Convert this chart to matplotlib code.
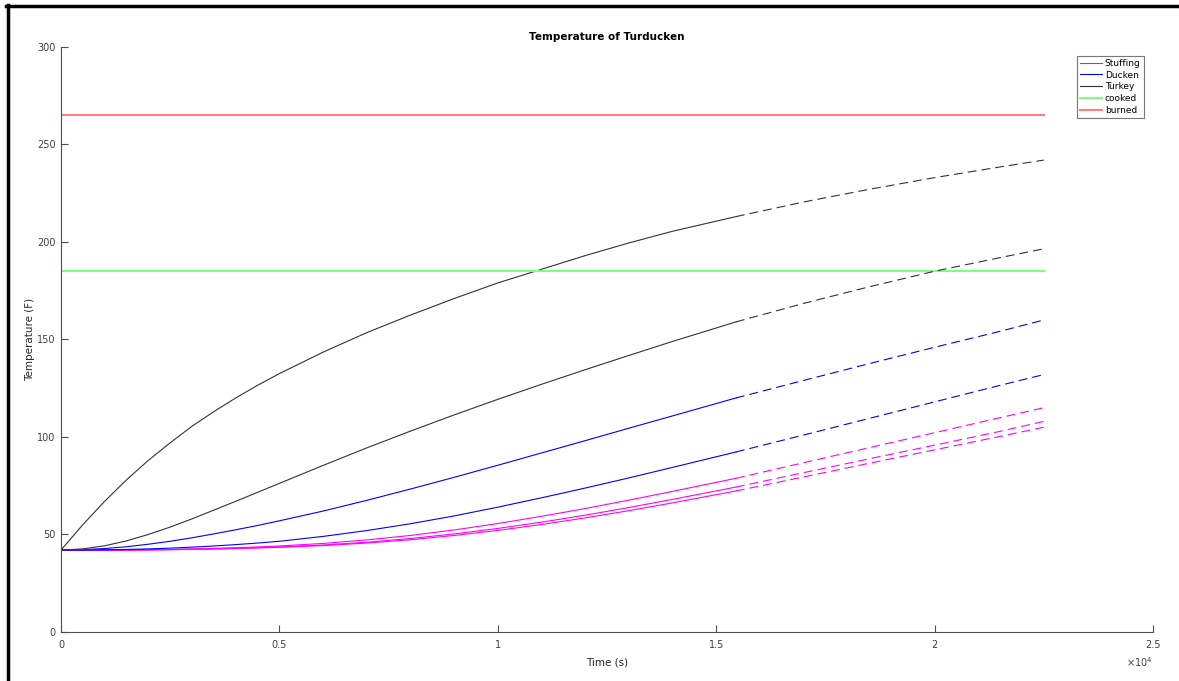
import numpy as np
import matplotlib
matplotlib.use("Agg")
import matplotlib.pyplot as plt
from matplotlib.lines import Line2D

# time points (s)
t_solid = [0, 500, 1000, 1500, 2000, 2500, 3000, 3500, 4000, 4500, 5000,
           6000, 7000, 8000, 9000, 10000, 11000, 12000, 13000, 14000, 15450]
t_dash = [15450, 17000, 18500, 20000, 21500, 22500]

# temperatures (F), solid part
turkey_out = [42, 55, 67, 78, 88, 97, 105.5, 113, 120, 126.5, 132.5,
              143.5, 153.5, 162.5, 171, 179, 186, 193, 199.5, 205.5, 213]
turkey_in = [42, 42.6, 44.2, 46.7, 50, 53.8, 58, 62.5, 67, 71.6, 76.2,
             85.4, 94.4, 103, 111.3, 119.3, 127, 134.5, 141.8, 149, 159]
ducken_out = [42, 42.2, 42.8, 43.7, 45, 46.5, 48.3, 50.3, 52.4, 54.6, 57,
              62, 67.5, 73.3, 79.3, 85.5, 91.8, 98.1, 104.5, 110.8, 120]
ducken_in = [42, 42, 42.1, 42.3, 42.6, 43, 43.5, 44.1, 44.8, 45.6, 46.5,
             49, 52, 55.5, 59.5, 64, 68.8, 73.8, 79, 84.4, 92.3]
stuff_1 = [42, 42, 42, 42.1, 42.2, 42.4, 42.6, 42.9, 43.2, 43.6, 44.1,
           45.4, 47.2, 49.5, 52.3, 55.6, 59.3, 63.3, 67.6, 72.1, 78.8]
stuff_2 = [42, 42, 42, 42, 42.1, 42.2, 42.4, 42.6, 42.9, 43.2, 43.6,
           44.6, 46, 47.9, 50.3, 53.1, 56.3, 59.9, 63.8, 68, 74.3]
stuff_3 = [42, 42, 42, 42, 42.1, 42.2, 42.35, 42.55, 42.8, 43.1, 43.4,
           44.3, 45.6, 47.3, 49.5, 52.1, 55.1, 58.5, 62.2, 66.2, 72.3]

# temperatures (F), dashed part
turkey_out_d = [213, 220.5, 227, 233, 238.5, 242]
turkey_in_d = [159, 168.5, 177, 185, 192, 196.5]
ducken_out_d = [120, 129, 137.6, 146, 154.2, 160]
ducken_in_d = [92.3, 101, 109.5, 118, 126.5, 132]
stuff_1_d = [78.8, 86.8, 94.5, 102.2, 109.9, 115]
stuff_2_d = [74.3, 81.7, 88.8, 95.8, 102.9, 108]
stuff_3_d = [72.3, 79.5, 86.5, 93.4, 100.3, 105]

cooked = 185
burned = 265
t_end = 22500

xticks = [0, 5000, 10000, 15000, 20000, 25000]
xticklabels = ['0', '0.5', '1', '1.5', '2', '2.5']
yticks = [0, 50, 100, 150, 200, 250, 300]

MAG = '#ff00ff'
BLU = '#0000ff'
BLK = '#333333'

fig = plt.figure(figsize=(11.79, 6.81), dpi=100)
ax = fig.add_axes([0.0517, 0.072, 0.9263, 0.859])

# solid lines
ax.plot(t_solid, stuff_1, color=MAG, lw=0.8, label='Stuffing')
ax.plot(t_solid, ducken_out, color=BLU, lw=0.8, label='Ducken')
ax.plot(t_solid, turkey_out, color=BLK, lw=0.8, label='Turkey')
ax.plot([0, t_end], [cooked, cooked], color='#7fff7f', lw=1.5, label='cooked')
ax.plot([0, t_end], [burned, burned], color='#ff7f7f', lw=1.5, label='burned')
ax.plot(t_solid, stuff_2, color=MAG, lw=0.8)
ax.plot(t_solid, stuff_3, color=MAG, lw=0.8)
ax.plot(t_solid, ducken_in, color=BLU, lw=0.8)
ax.plot(t_solid, turkey_in, color=BLK, lw=0.8)

# dashed extension
for y, c in [(stuff_1_d, MAG), (stuff_2_d, MAG), (stuff_3_d, MAG),
             (ducken_out_d, BLU), (ducken_in_d, BLU),
             (turkey_out_d, BLK), (turkey_in_d, BLK)]:
    ax.plot(t_dash, y, color=c, lw=0.8, dashes=(8, 4.5))

ax.set_xlim(0, 25000)
ax.set_ylim(0, 300)
ax.set_xticks(xticks)
ax.set_xticklabels(xticklabels)
ax.set_yticks(yticks)

gray = '#4d4d4d'
for s in ['top', 'right']:
    ax.spines[s].set_visible(False)
for s in ['left', 'bottom']:
    ax.spines[s].set_color(gray)
    ax.spines[s].set_linewidth(0.8)
ax.tick_params(direction='in', length=5, width=0.8, colors=gray,
               labelsize=7, labelcolor='#404040')
ax.tick_params(axis='x', pad=6)
ax.tick_params(axis='y', pad=4)

ax.set_title('Temperature of Turducken', fontsize=7.5, fontweight='bold', pad=5)
ax.set_xlabel('Time (s)', fontsize=7.5, color='#262626', labelpad=5)
ax.set_ylabel('Temperature (F)', fontsize=7.5, color='#262626', labelpad=1)
ax.text(1.0, -0.04, r'$\times10^4$', transform=ax.transAxes, fontsize=7,
        color='#404040', ha='right', va='top')

leg = ax.legend(loc='upper right', bbox_to_anchor=(0.9915, 0.985), fontsize=6.5,
                frameon=True, fancybox=False, handlelength=2.4,
                handletextpad=0.3, borderpad=0.35, labelspacing=0.3,
                borderaxespad=0)
leg.get_frame().set_edgecolor('#555555')
leg.get_frame().set_linewidth(0.8)

# black frame on left and top of the figure
fig.add_artist(Line2D([0.0065, 0.0065], [0, 0.992], transform=fig.transFigure,
                      color='black', lw=2.5))
fig.add_artist(Line2D([0.005, 1.0], [0.991, 0.991], transform=fig.transFigure,
                      color='black', lw=2.5))

fig.savefig('out.png', dpi=100)
